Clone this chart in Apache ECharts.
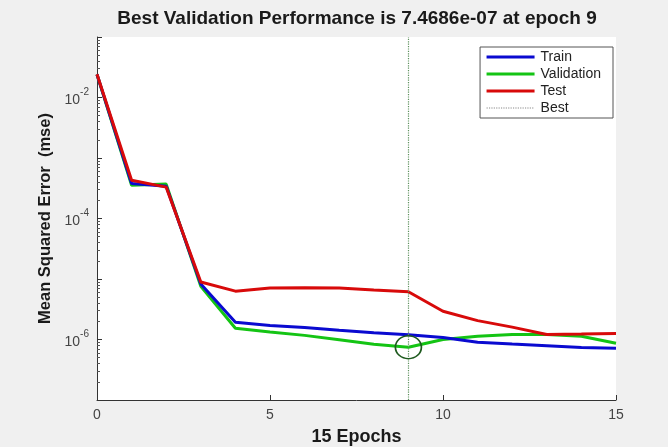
<!DOCTYPE html>
<html>
<head>
<meta charset="utf-8">
<script src="https://cdn.jsdelivr.net/npm/echarts@6/dist/echarts.min.js"></script>
<style>
html,body{margin:0;padding:0;background:#f0f0f0;}
#c{width:668px;height:447px;}
</style>
</head>
<body>
<div id="c"></div>
<script>
const epochs = [0,1,2,3,4,5,6,7,8,9,10,11,12,13,14,15];
const trainMse = [0.024, 3.8e-4, 3.4e-4, 8.3e-6, 1.92e-6, 1.71e-6, 1.58e-6, 1.42e-6, 1.29e-6, 1.2e-6, 1.08e-6, 9.0e-7, 8.4e-7, 7.9e-7, 7.4e-7, 7.2e-7];
const validationMse = [0.024, 3.55e-4, 3.7e-4, 7.6e-6, 1.53e-6, 1.33e-6, 1.17e-6, 9.9e-7, 8.35e-7, 7.4686e-7, 1.0e-6, 1.13e-6, 1.21e-6, 1.21e-6, 1.13e-6, 8.7e-7];
const testMse = [0.0242, 4.3e-4, 3.3e-4, 8.9e-6, 6.3e-6, 7.08e-6, 7.16e-6, 7.08e-6, 6.56e-6, 6.14e-6, 2.93e-6, 2.05e-6, 1.6e-6, 1.21e-6, 1.23e-6, 1.26e-6];
const bestEpoch = 9;
const bestValue = 7.4686e-7;
const xTicks = [0, 5, 10, 15];
const yLabelExponents = [-2, -4, -6];

const font = '"Liberation Sans", Arial, Helvetica, sans-serif';
const chart = echarts.init(document.getElementById('c'));
const pair = arr => epochs.map((e, i) => [e, arr[i]]);

chart.setOption({
  backgroundColor: '#f0f0f0',
  animation: false,
  title: {
    text: 'Best Validation Performance is 7.4686e-07 at epoch 9',
    left: 352, top: 4, textAlign: 'center',
    textStyle: {fontFamily: font, fontSize: 19, fontWeight: 'bold', color: '#1a1a1a'}
  },
  grid: {left: 97, right: 52, top: 37, bottom: 47, show: true, backgroundColor: '#ffffff', borderWidth: 0,
         containLabel: false, outerBoundsMode: 'none'},
  legend: {
    orient: 'vertical', right: 55, top: 47,
    backgroundColor: '#ffffff', borderColor: '#555', borderWidth: 1,
    padding: [3, 12, 3, 5], itemWidth: 48, itemHeight: 10, itemGap: 3,
    itemStyle: {opacity: 0},
    lineStyle: {width: 3},
    textStyle: {fontFamily: font, fontSize: 14, color: '#222', padding: [0, 0, 0, 1]},
    data: ['Train', 'Validation', 'Test', {name: 'Best', lineStyle: {width: 1.2}}]
  },
  xAxis: {
    type: 'value', min: 0, max: 15, interval: 5,
    name: '15 Epochs', nameLocation: 'middle', nameGap: 28,
    nameTextStyle: {fontFamily: font, fontSize: 18, fontWeight: 'bold', color: '#1a1a1a'},
    axisLine: {lineStyle: {color: '#333', width: 1}},
    axisTick: {inside: true, length: 5, lineStyle: {color: '#333'}},
    splitLine: {show: false},
    axisLabel: {
      fontFamily: font, fontSize: 14, color: '#444', margin: 8,
      formatter: v => xTicks.indexOf(v) >= 0 ? String(v) : ''
    }
  },
  yAxis: {
    type: 'log', logBase: 10, min: 1e-7, max: 1e-1,
    name: 'Mean Squared Error  (mse)', nameLocation: 'middle', nameGap: 43,
    nameTextStyle: {fontFamily: font, fontSize: 16.5, fontWeight: 'bold', color: '#1a1a1a'},
    axisLine: {show: true, lineStyle: {color: '#333', width: 1}},
    axisTick: {inside: true, length: 5, lineStyle: {color: '#333'}},
    minorTick: {show: true, splitNumber: 9, length: 3, lineStyle: {color: '#555'}},
    splitLine: {show: false},
    axisLabel: {
      margin: 8, color: '#444',
      formatter: v => {
        const e = Math.round(Math.log10(v));
        return yLabelExponents.indexOf(e) >= 0 ? '{b|10}{s|' + e + '}' : '';
      },
      rich: {
        b: {fontFamily: font, fontSize: 14, color: '#444', lineHeight: 20, verticalAlign: 'bottom'},
        s: {fontFamily: font, fontSize: 10, color: '#444', lineHeight: 12, verticalAlign: 'top'}
      }
    }
  },
  series: [
    {name: 'Train', type: 'line', symbol: 'none', data: pair(trainMse),
     lineStyle: {color: '#0a0ad0', width: 3}, itemStyle: {color: '#0a0ad0'}, z: 3},
    {name: 'Validation', type: 'line', symbol: 'none', data: pair(validationMse),
     lineStyle: {color: '#14c414', width: 3}, itemStyle: {color: '#14c414'}, z: 2,
     markLine: {
       silent: true, symbol: 'none', label: {show: false},
       lineStyle: {color: '#5f915f', type: 'dotted', width: 1.2},
       data: [{xAxis: bestEpoch}, {yAxis: bestValue}]
     },
     markPoint: {
       silent: true, symbol: 'circle', symbolSize: [26, 23], label: {show: false},
       itemStyle: {color: 'rgba(0,0,0,0)', borderColor: '#1e5a1e', borderWidth: 1.6},
       data: [{coord: [bestEpoch, bestValue]}]
     }},
    {name: 'Test', type: 'line', symbol: 'none', data: pair(testMse),
     lineStyle: {color: '#d80a0a', width: 3}, itemStyle: {color: '#d80a0a'}, z: 4},
    {name: 'Best', type: 'line', symbol: 'none', data: [],
     lineStyle: {color: '#888', type: 'dotted', width: 1.2}, itemStyle: {color: '#888'}}
  ]
});
</script>
</body>
</html>
